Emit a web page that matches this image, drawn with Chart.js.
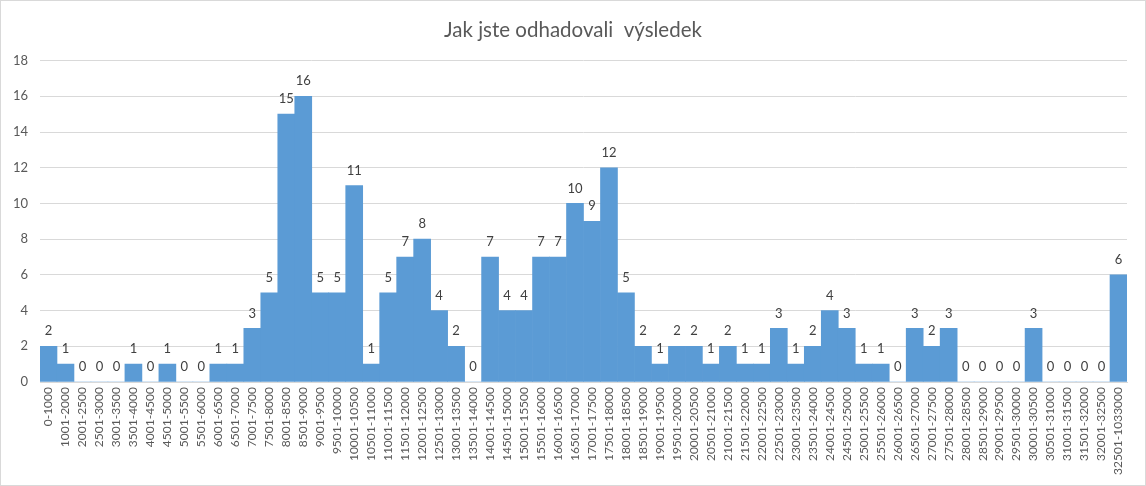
<!DOCTYPE html>
<html>
<head>
<meta charset="utf-8">
<script src="https://cdn.jsdelivr.net/npm/chart.js@4"></script>
<style>
  html, body { margin: 0; padding: 0; background: #fff; }
  #wrap { width: 1146px; height: 486px; box-sizing: border-box; border: 1px solid #d9d9d9; }
  canvas { display: block; }
</style>
</head>
<body>
<div id="wrap"><canvas id="chart" width="1144" height="484"></canvas></div>
<script>
const titleText = 'Jak jste odhadovali  výsledek';

const ranges = [
  '0-1000', '1001-2000', '2001-2500', '2501-3000', '3001-3500', '3501-4000', '4001-4500', '4501-5000',
  '5001-5500', '5501-6000', '6001-6500', '6501-7000', '7001-7500', '7501-8000', '8001-8500', '8501-9000',
  '9001-9500', '9501-10000', '10001-10500', '10501-11000', '11001-11500', '11501-12000', '12001-12500', '12501-13000',
  '13001-13500', '13501-14000', '14001-14500', '14501-15000', '15001-15500', '15501-16000', '16001-16500', '16501-17000',
  '17001-17500', '17501-18000', '18001-18500', '18501-19000', '19001-19500', '19501-20000', '20001-20500', '20501-21000',
  '21001-21500', '21501-22000', '22001-22500', '22501-23000', '23001-23500', '23501-24000', '24001-24500', '24501-25000',
  '25001-25500', '25501-26000', '26001-26500', '26501-27000', '27001-27500', '27501-28000', '28001-28500', '28501-29000',
  '29001-29500', '29501-30000', '30001-30500', '30501-31000', '31001-31500', '31501-32000', '32001-32500', '32501-1033000'
];

const counts = [
  2, 1, 0, 0, 0, 1, 0, 1,
  0, 0, 1, 1, 3, 5, 15, 16,
  5, 5, 11, 1, 5, 7, 8, 4,
  2, 0, 7, 4, 4, 7, 7, 10,
  9, 12, 5, 2, 1, 2, 2, 1,
  2, 1, 1, 3, 1, 2, 4, 3,
  1, 1, 0, 3, 2, 3, 0, 0,
  0, 0, 3, 0, 0, 0, 0, 6
];

const yMax = 18;
const yStep = 2;

// hodnoty nad sloupci
const valueLabels = {
  id: 'valueLabels',
  afterDatasetsDraw(chart) {
    const ctx = chart.ctx;
    const meta = chart.getDatasetMeta(0);
    ctx.save();
    ctx.font = '13px Lato, "Liberation Sans", sans-serif';
    ctx.fillStyle = '#404040';
    ctx.textAlign = 'center';
    ctx.textBaseline = 'middle';
    meta.data.forEach((bar, i) => {
      ctx.fillText(String(counts[i]), bar.x, bar.y - 15);
    });
    ctx.restore();
  }
};

new Chart(document.getElementById('chart'), {
  type: 'bar',
  data: {
    labels: ranges,
    datasets: [{
      data: counts,
      backgroundColor: '#5b9bd5',
      borderWidth: 0,
      barPercentage: 1,
      categoryPercentage: 1
    }]
  },
  options: {
    responsive: false,
    animation: false,
    layout: { padding: 0 },
    plugins: {
      legend: { display: false },
      tooltip: { enabled: false },
      title: {
        display: true,
        text: titleText,
        color: '#595959',
        font: { family: 'Lato, "Liberation Sans", sans-serif', size: 20.5, weight: 'normal' },
        padding: { top: 17, bottom: 18 }
      }
    },
    scales: {
      x: {
        offset: true,
        grid: { display: false, drawTicks: false },
        border: { display: true, color: '#d9d9d9' },
        ticks: {
          color: '#595959',
          font: { family: 'Lato, "Liberation Sans", sans-serif', size: 12 },
          maxRotation: 90,
          minRotation: 90,
          autoSkip: false,
          padding: 5
        },
        afterFit(scale) { scale.height = 103; }
      },
      y: {
        min: 0,
        max: yMax,
        ticks: {
          stepSize: yStep,
          color: '#595959',
          font: { family: 'Lato, "Liberation Sans", sans-serif', size: 13 },
          padding: 12
        },
        grid: { color: '#d9d9d9', drawTicks: false },
        border: { display: false },
        afterFit(scale) { scale.width = 39; }
      },
      // prázdný pravý okraj, aby byl nadpis vycentrovaný přes celé plátno
      spacer: {
        position: 'right',
        min: 0,
        max: yMax,
        ticks: { display: false },
        grid: { display: false, drawTicks: false },
        border: { display: false },
        afterFit(scale) { scale.width = 18; }
      }
    }
  },
  plugins: [valueLabels]
});
</script>
</body>
</html>
